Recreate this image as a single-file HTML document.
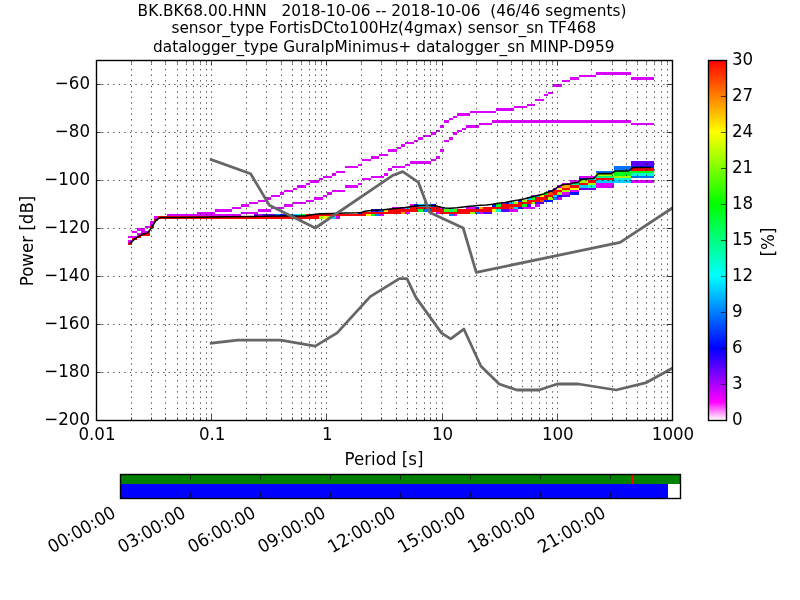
<!DOCTYPE html>
<html lang="en">
<head>
<meta charset="utf-8">
<title>PPSD BK.BK68.00.HNN</title>
<style>
html,body{margin:0;padding:0;background:#fff;}
body{width:800px;height:600px;overflow:hidden;font-family:"DejaVu Sans", "Liberation Sans", sans-serif;}
svg{display:block;will-change:transform;}
</style>
</head>
<body>
<svg width="800" height="600" viewBox="0 0 800 600" font-family='"DejaVu Sans", "Liberation Sans", sans-serif'>
<rect x="0" y="0" width="800" height="600" fill="#ffffff"/>
<defs>
<clipPath id="axclip"><rect x="96" y="60" width="576" height="360"/></clipPath>
<linearGradient id="pqlx" x1="0" y1="1" x2="0" y2="0">
<stop offset="0" stop-color="#ffffff"/>
<stop offset="0.05" stop-color="#ff00ff"/>
<stop offset="0.2" stop-color="#0000ff"/>
<stop offset="0.4" stop-color="#00ffff"/>
<stop offset="0.6" stop-color="#00ff00"/>
<stop offset="0.8" stop-color="#ffff00"/>
<stop offset="1" stop-color="#ff0000"/>
</linearGradient>
</defs>
<g id="hist" shape-rendering="crispEdges" clip-path="url(#axclip)">
<rect x="596" y="72" width="35" height="3" fill="#d900ff"/>
<rect x="579" y="75" width="17" height="2" fill="#d900ff"/>
<rect x="570" y="77" width="9" height="3" fill="#d900ff"/>
<rect x="631" y="77" width="23" height="3" fill="#d900ff"/>
<rect x="562" y="80" width="8" height="2" fill="#d900ff"/>
<rect x="553" y="84" width="9" height="3" fill="#d900ff"/>
<rect x="548" y="92" width="5" height="2" fill="#d900ff"/>
<rect x="544" y="94" width="4" height="2" fill="#d900ff"/>
<rect x="535" y="99" width="9" height="2" fill="#d900ff"/>
<rect x="527" y="104" width="8" height="2" fill="#d900ff"/>
<rect x="514" y="106" width="13" height="2" fill="#d900ff"/>
<rect x="496" y="108" width="18" height="3" fill="#d900ff"/>
<rect x="470" y="111" width="26" height="2" fill="#d900ff"/>
<rect x="457" y="113" width="13" height="3" fill="#d900ff"/>
<rect x="453" y="116" width="4" height="2" fill="#d900ff"/>
<rect x="449" y="118" width="4" height="2" fill="#d900ff"/>
<rect x="444" y="120" width="5" height="3" fill="#d900ff"/>
<rect x="492" y="120" width="139" height="3" fill="#d900ff"/>
<rect x="479" y="123" width="13" height="2" fill="#d900ff"/>
<rect x="631" y="123" width="23" height="2" fill="#d900ff"/>
<rect x="440" y="125" width="4" height="3" fill="#d900ff"/>
<rect x="466" y="125" width="13" height="3" fill="#d900ff"/>
<rect x="462" y="128" width="4" height="2" fill="#d900ff"/>
<rect x="436" y="130" width="4" height="2" fill="#d900ff"/>
<rect x="457" y="130" width="5" height="2" fill="#d900ff"/>
<rect x="431" y="132" width="5" height="3" fill="#d900ff"/>
<rect x="453" y="132" width="4" height="3" fill="#d900ff"/>
<rect x="423" y="135" width="8" height="2" fill="#d900ff"/>
<rect x="418" y="137" width="5" height="3" fill="#d900ff"/>
<rect x="449" y="137" width="4" height="3" fill="#d900ff"/>
<rect x="414" y="140" width="4" height="2" fill="#d900ff"/>
<rect x="444" y="140" width="5" height="2" fill="#d900ff"/>
<rect x="405" y="142" width="9" height="2" fill="#d900ff"/>
<rect x="401" y="144" width="4" height="3" fill="#d900ff"/>
<rect x="397" y="147" width="4" height="2" fill="#d900ff"/>
<rect x="388" y="149" width="9" height="3" fill="#d900ff"/>
<rect x="440" y="149" width="4" height="3" fill="#d900ff"/>
<rect x="379" y="154" width="9" height="2" fill="#d900ff"/>
<rect x="371" y="156" width="8" height="3" fill="#d900ff"/>
<rect x="436" y="156" width="4" height="3" fill="#d900ff"/>
<rect x="362" y="159" width="9" height="2" fill="#d900ff"/>
<rect x="431" y="159" width="5" height="2" fill="#d900ff"/>
<rect x="410" y="161" width="21" height="3" fill="#d900ff"/>
<rect x="631" y="161" width="23" height="3" fill="#5e00ff"/>
<rect x="358" y="164" width="4" height="2" fill="#d900ff"/>
<rect x="405" y="164" width="5" height="2" fill="#d900ff"/>
<rect x="631" y="164" width="23" height="2" fill="#5e00ff"/>
<rect x="345" y="166" width="13" height="2" fill="#d900ff"/>
<rect x="392" y="166" width="13" height="2" fill="#d900ff"/>
<rect x="631" y="166" width="23" height="2" fill="#0016ff"/>
<rect x="614" y="166" width="17" height="2" fill="#0073ff"/>
<rect x="388" y="168" width="4" height="3" fill="#d900ff"/>
<rect x="614" y="168" width="17" height="3" fill="#0073ff"/>
<rect x="631" y="168" width="23" height="3" fill="#ff0000"/>
<rect x="336" y="171" width="9" height="2" fill="#d900ff"/>
<rect x="596" y="171" width="18" height="2" fill="#0073ff"/>
<rect x="614" y="171" width="40" height="2" fill="#00ff1a"/>
<rect x="332" y="173" width="4" height="3" fill="#d900ff"/>
<rect x="384" y="173" width="4" height="3" fill="#d900ff"/>
<rect x="631" y="173" width="23" height="3" fill="#00ffd3"/>
<rect x="614" y="173" width="17" height="3" fill="#00ff1a"/>
<rect x="596" y="173" width="18" height="3" fill="#9fff00"/>
<rect x="323" y="176" width="9" height="2" fill="#d900ff"/>
<rect x="371" y="176" width="13" height="2" fill="#d900ff"/>
<rect x="579" y="176" width="17" height="2" fill="#d900ff"/>
<rect x="631" y="176" width="23" height="2" fill="#0073ff"/>
<rect x="596" y="176" width="18" height="2" fill="#00ff76"/>
<rect x="614" y="176" width="17" height="2" fill="#9fff00"/>
<rect x="319" y="178" width="4" height="2" fill="#d900ff"/>
<rect x="362" y="178" width="9" height="2" fill="#d900ff"/>
<rect x="579" y="178" width="9" height="2" fill="#0016ff"/>
<rect x="588" y="178" width="8" height="2" fill="#00ffd3"/>
<rect x="614" y="178" width="17" height="2" fill="#00ffd3"/>
<rect x="596" y="178" width="18" height="2" fill="#ff0000"/>
<rect x="310" y="180" width="9" height="3" fill="#d900ff"/>
<rect x="570" y="180" width="9" height="3" fill="#d900ff"/>
<rect x="631" y="180" width="23" height="3" fill="#d900ff"/>
<rect x="596" y="180" width="35" height="3" fill="#00cfff"/>
<rect x="579" y="180" width="9" height="3" fill="#9fff00"/>
<rect x="588" y="180" width="8" height="3" fill="#ff0000"/>
<rect x="306" y="183" width="4" height="2" fill="#d900ff"/>
<rect x="358" y="183" width="4" height="2" fill="#d900ff"/>
<rect x="562" y="183" width="8" height="2" fill="#d900ff"/>
<rect x="596" y="183" width="18" height="2" fill="#d900ff"/>
<rect x="570" y="183" width="9" height="2" fill="#00ff76"/>
<rect x="588" y="183" width="8" height="2" fill="#9fff00"/>
<rect x="579" y="183" width="9" height="2" fill="#ff0000"/>
<rect x="297" y="185" width="9" height="3" fill="#d900ff"/>
<rect x="345" y="185" width="13" height="3" fill="#d900ff"/>
<rect x="557" y="185" width="5" height="3" fill="#d900ff"/>
<rect x="596" y="185" width="18" height="3" fill="#d900ff"/>
<rect x="579" y="185" width="9" height="3" fill="#00cfff"/>
<rect x="588" y="185" width="8" height="3" fill="#00ffd3"/>
<rect x="562" y="185" width="8" height="3" fill="#ffa600"/>
<rect x="570" y="185" width="9" height="3" fill="#ff0000"/>
<rect x="293" y="188" width="4" height="2" fill="#d900ff"/>
<rect x="553" y="188" width="4" height="2" fill="#d900ff"/>
<rect x="579" y="188" width="17" height="2" fill="#5e00ff"/>
<rect x="557" y="188" width="5" height="2" fill="#fbff00"/>
<rect x="570" y="188" width="9" height="2" fill="#fbff00"/>
<rect x="562" y="188" width="8" height="2" fill="#ff0000"/>
<rect x="284" y="190" width="9" height="2" fill="#d900ff"/>
<rect x="332" y="190" width="13" height="2" fill="#d900ff"/>
<rect x="570" y="190" width="9" height="2" fill="#d900ff"/>
<rect x="548" y="190" width="5" height="2" fill="#5e00ff"/>
<rect x="562" y="190" width="8" height="2" fill="#9fff00"/>
<rect x="553" y="190" width="9" height="2" fill="#ff0000"/>
<rect x="280" y="192" width="4" height="3" fill="#d900ff"/>
<rect x="327" y="192" width="5" height="3" fill="#d900ff"/>
<rect x="562" y="192" width="8" height="3" fill="#d900ff"/>
<rect x="570" y="192" width="9" height="3" fill="#0016ff"/>
<rect x="544" y="192" width="4" height="3" fill="#00ff1a"/>
<rect x="557" y="192" width="5" height="3" fill="#9fff00"/>
<rect x="548" y="192" width="5" height="3" fill="#ff4a00"/>
<rect x="553" y="192" width="4" height="3" fill="#ff0000"/>
<rect x="271" y="195" width="9" height="2" fill="#d900ff"/>
<rect x="323" y="195" width="4" height="2" fill="#d900ff"/>
<rect x="531" y="195" width="4" height="2" fill="#d900ff"/>
<rect x="562" y="195" width="8" height="2" fill="#5e00ff"/>
<rect x="557" y="195" width="5" height="2" fill="#0016ff"/>
<rect x="535" y="195" width="5" height="2" fill="#00cfff"/>
<rect x="553" y="195" width="4" height="2" fill="#00cfff"/>
<rect x="540" y="195" width="4" height="2" fill="#fbff00"/>
<rect x="544" y="195" width="9" height="2" fill="#ff0000"/>
<rect x="267" y="197" width="4" height="3" fill="#d900ff"/>
<rect x="314" y="197" width="9" height="3" fill="#d900ff"/>
<rect x="557" y="197" width="5" height="3" fill="#d900ff"/>
<rect x="553" y="197" width="4" height="3" fill="#0073ff"/>
<rect x="527" y="197" width="4" height="3" fill="#00cfff"/>
<rect x="531" y="197" width="4" height="3" fill="#00ff1a"/>
<rect x="548" y="197" width="5" height="3" fill="#9fff00"/>
<rect x="535" y="197" width="13" height="3" fill="#ff0000"/>
<rect x="258" y="200" width="9" height="2" fill="#d900ff"/>
<rect x="306" y="200" width="8" height="2" fill="#d900ff"/>
<rect x="518" y="200" width="4" height="2" fill="#0016ff"/>
<rect x="544" y="200" width="9" height="2" fill="#0016ff"/>
<rect x="522" y="200" width="5" height="2" fill="#9fff00"/>
<rect x="540" y="200" width="4" height="2" fill="#ff4a00"/>
<rect x="527" y="200" width="13" height="2" fill="#ff0000"/>
<rect x="249" y="202" width="9" height="2" fill="#d900ff"/>
<rect x="293" y="202" width="13" height="2" fill="#d900ff"/>
<rect x="501" y="202" width="4" height="2" fill="#d900ff"/>
<rect x="535" y="202" width="9" height="2" fill="#5e00ff"/>
<rect x="505" y="202" width="4" height="2" fill="#0016ff"/>
<rect x="509" y="202" width="5" height="2" fill="#00cfff"/>
<rect x="514" y="202" width="4" height="2" fill="#9fff00"/>
<rect x="531" y="202" width="4" height="2" fill="#9fff00"/>
<rect x="518" y="202" width="13" height="2" fill="#ff0000"/>
<rect x="241" y="204" width="8" height="3" fill="#d900ff"/>
<rect x="284" y="204" width="9" height="3" fill="#d900ff"/>
<rect x="410" y="204" width="4" height="3" fill="#d900ff"/>
<rect x="535" y="204" width="5" height="3" fill="#d900ff"/>
<rect x="527" y="204" width="4" height="3" fill="#5e00ff"/>
<rect x="414" y="204" width="4" height="3" fill="#0016ff"/>
<rect x="431" y="204" width="5" height="3" fill="#0016ff"/>
<rect x="492" y="204" width="4" height="3" fill="#0016ff"/>
<rect x="418" y="204" width="13" height="3" fill="#00cfff"/>
<rect x="496" y="204" width="5" height="3" fill="#00ff1a"/>
<rect x="522" y="204" width="5" height="3" fill="#00ff1a"/>
<rect x="501" y="204" width="21" height="3" fill="#ff0000"/>
<rect x="232" y="207" width="9" height="2" fill="#d900ff"/>
<rect x="271" y="207" width="13" height="2" fill="#d900ff"/>
<rect x="392" y="207" width="13" height="2" fill="#d900ff"/>
<rect x="440" y="207" width="4" height="2" fill="#d900ff"/>
<rect x="466" y="207" width="9" height="2" fill="#d900ff"/>
<rect x="522" y="207" width="13" height="2" fill="#d900ff"/>
<rect x="475" y="207" width="4" height="2" fill="#0016ff"/>
<rect x="518" y="207" width="4" height="2" fill="#0016ff"/>
<rect x="405" y="207" width="5" height="2" fill="#00cfff"/>
<rect x="514" y="207" width="4" height="2" fill="#00cfff"/>
<rect x="479" y="207" width="4" height="2" fill="#ffa600"/>
<rect x="509" y="207" width="5" height="2" fill="#ff4a00"/>
<rect x="410" y="207" width="30" height="2" fill="#ff0000"/>
<rect x="483" y="207" width="26" height="2" fill="#ff0000"/>
<rect x="215" y="209" width="17" height="3" fill="#d900ff"/>
<rect x="258" y="209" width="13" height="3" fill="#d900ff"/>
<rect x="509" y="209" width="9" height="3" fill="#d900ff"/>
<rect x="371" y="209" width="4" height="3" fill="#5e00ff"/>
<rect x="501" y="209" width="8" height="3" fill="#5e00ff"/>
<rect x="375" y="209" width="4" height="3" fill="#0016ff"/>
<rect x="379" y="209" width="5" height="3" fill="#0073ff"/>
<rect x="423" y="209" width="8" height="3" fill="#0073ff"/>
<rect x="496" y="209" width="5" height="3" fill="#00ffd3"/>
<rect x="449" y="209" width="4" height="3" fill="#00ff76"/>
<rect x="418" y="209" width="5" height="3" fill="#00ff1a"/>
<rect x="444" y="209" width="5" height="3" fill="#43ff00"/>
<rect x="453" y="209" width="4" height="3" fill="#43ff00"/>
<rect x="384" y="209" width="4" height="3" fill="#fbff00"/>
<rect x="492" y="209" width="4" height="3" fill="#fbff00"/>
<rect x="388" y="209" width="30" height="3" fill="#ff0000"/>
<rect x="431" y="209" width="13" height="3" fill="#ff0000"/>
<rect x="457" y="209" width="35" height="3" fill="#ff0000"/>
<rect x="197" y="212" width="18" height="2" fill="#d900ff"/>
<rect x="241" y="212" width="17" height="2" fill="#d900ff"/>
<rect x="405" y="212" width="5" height="2" fill="#d900ff"/>
<rect x="436" y="212" width="4" height="2" fill="#d900ff"/>
<rect x="479" y="212" width="4" height="2" fill="#d900ff"/>
<rect x="483" y="212" width="9" height="2" fill="#5e00ff"/>
<rect x="358" y="212" width="4" height="2" fill="#0016ff"/>
<rect x="475" y="212" width="4" height="2" fill="#0073ff"/>
<rect x="470" y="212" width="5" height="2" fill="#9fff00"/>
<rect x="401" y="212" width="4" height="2" fill="#ffa600"/>
<rect x="362" y="212" width="39" height="2" fill="#ff0000"/>
<rect x="440" y="212" width="30" height="2" fill="#ff0000"/>
<rect x="167" y="214" width="74" height="2" fill="#d900ff"/>
<rect x="258" y="214" width="4" height="2" fill="#d900ff"/>
<rect x="379" y="214" width="5" height="2" fill="#d900ff"/>
<rect x="453" y="214" width="4" height="2" fill="#d900ff"/>
<rect x="254" y="214" width="4" height="2" fill="#5e00ff"/>
<rect x="262" y="214" width="13" height="2" fill="#5e00ff"/>
<rect x="280" y="214" width="8" height="2" fill="#0016ff"/>
<rect x="275" y="214" width="5" height="2" fill="#0073ff"/>
<rect x="288" y="214" width="5" height="2" fill="#0073ff"/>
<rect x="375" y="214" width="4" height="2" fill="#0073ff"/>
<rect x="449" y="214" width="4" height="2" fill="#0073ff"/>
<rect x="293" y="214" width="4" height="2" fill="#00cfff"/>
<rect x="297" y="214" width="4" height="2" fill="#00ffd3"/>
<rect x="301" y="214" width="5" height="2" fill="#00ff1a"/>
<rect x="371" y="214" width="4" height="2" fill="#00ff1a"/>
<rect x="366" y="214" width="5" height="2" fill="#fbff00"/>
<rect x="306" y="214" width="60" height="2" fill="#ff0000"/>
<rect x="154" y="216" width="4" height="3" fill="#d900ff"/>
<rect x="336" y="216" width="4" height="3" fill="#d900ff"/>
<rect x="332" y="216" width="4" height="3" fill="#00cfff"/>
<rect x="319" y="216" width="4" height="3" fill="#9fff00"/>
<rect x="327" y="216" width="5" height="3" fill="#9fff00"/>
<rect x="323" y="216" width="4" height="3" fill="#fbff00"/>
<rect x="158" y="216" width="161" height="3" fill="#ff0000"/>
<rect x="154" y="219" width="4" height="2" fill="#ff0000"/>
<rect x="150" y="221" width="4" height="3" fill="#d900ff"/>
<rect x="150" y="224" width="4" height="2" fill="#d900ff"/>
<rect x="145" y="226" width="5" height="2" fill="#d900ff"/>
<rect x="150" y="226" width="4" height="2" fill="#ff0000"/>
<rect x="137" y="228" width="8" height="3" fill="#d900ff"/>
<rect x="132" y="231" width="5" height="2" fill="#d900ff"/>
<rect x="141" y="231" width="9" height="2" fill="#d900ff"/>
<rect x="137" y="233" width="4" height="3" fill="#d900ff"/>
<rect x="141" y="233" width="9" height="3" fill="#ff0000"/>
<rect x="128" y="236" width="9" height="2" fill="#d900ff"/>
<rect x="137" y="236" width="4" height="2" fill="#ff0000"/>
<rect x="132" y="238" width="5" height="2" fill="#ff0000"/>
<rect x="128" y="240" width="4" height="3" fill="#d900ff"/>
<rect x="128" y="243" width="4" height="2" fill="#ff0000"/>
</g>
<g id="grid" stroke="#000" stroke-width="0.69" stroke-dasharray="1.3889 4.1667" fill="none">
<path d="M131.5 420.4V60"/>
<path d="M151.5 420.4V60"/>
<path d="M165.5 420.4V60"/>
<path d="M177.5 420.4V60"/>
<path d="M186.5 420.4V60"/>
<path d="M193.5 420.4V60"/>
<path d="M200.5 420.4V60"/>
<path d="M206.5 420.4V60"/>
<path d="M211.5 420.4V60"/>
<path d="M246.5 420.4V60"/>
<path d="M266.5 420.4V60"/>
<path d="M281.5 420.4V60"/>
<path d="M292.5 420.4V60"/>
<path d="M301.5 420.4V60"/>
<path d="M309.5 420.4V60"/>
<path d="M315.5 420.4V60"/>
<path d="M321.5 420.4V60"/>
<path d="M326.5 420.4V60"/>
<path d="M361.5 420.4V60"/>
<path d="M381.5 420.4V60"/>
<path d="M396.5 420.4V60"/>
<path d="M407.5 420.4V60"/>
<path d="M416.5 420.4V60"/>
<path d="M424.5 420.4V60"/>
<path d="M430.5 420.4V60"/>
<path d="M436.5 420.4V60"/>
<path d="M442.5 420.4V60"/>
<path d="M476.5 420.4V60"/>
<path d="M497.5 420.4V60"/>
<path d="M511.5 420.4V60"/>
<path d="M522.5 420.4V60"/>
<path d="M531.5 420.4V60"/>
<path d="M539.5 420.4V60"/>
<path d="M546.5 420.4V60"/>
<path d="M552.5 420.4V60"/>
<path d="M557.5 420.4V60"/>
<path d="M591.5 420.4V60"/>
<path d="M612.5 420.4V60"/>
<path d="M626.5 420.4V60"/>
<path d="M637.5 420.4V60"/>
<path d="M646.5 420.4V60"/>
<path d="M654.5 420.4V60"/>
<path d="M661.5 420.4V60"/>
<path d="M667.5 420.4V60"/>
<path d="M96.5 372.5H672"/>
<path d="M96.5 324.5H672"/>
<path d="M96.5 276.5H672"/>
<path d="M96.5 228.5H672"/>
<path d="M96.5 180.5H672"/>
<path d="M96.5 132.5H672"/>
<path d="M96.5 84.5H672"/>
</g>
<path id="meanline" d="M130.07 243.6 L134.4 239.2 L138.7 236.4 L143.07 234 L147.4 233.2 L151.7 227.5 L156.1 220 L160.4 217.6 L176 217.5 L200 217.3 L225 216.8 L250 216.5 L275 216.1 L305.6 216 L310 214.9 L320 213.8 L332.5 213.5 L345 213 L357.5 212.75 L361.25 212.4 L365 211.2 L371.25 210.5 L383.75 209.7 L390 209 L396.25 208.4 L405 207.6 L408.75 206.9 L411.25 206.4 L415 206 L422.5 205.6 L428.75 205.4 L435 205.6 L438.1 206.5 L441.25 207.3 L445 207.9 L450.6 208.25 L456.9 207.75 L461.25 207.2 L467.5 206.6 L473.75 205.9 L480 205.3 L486.25 205 L492.5 204.25 L498.75 203.25 L505 202.4 L512.5 201.06 L518.75 200.1 L525 198.75 L531.25 197 L537.5 195.4 L543.75 193.9 L547 192.4 L551.25 191.1 L557.5 187.4 L561.25 185.2 L563.75 184.4 L570 184.1 L573.1 183 L578.1 182.5 L580.6 179.9 L582.5 179.25 L588.75 178.75 L593.9 178.4 L598.25 173.6 L611.25 173.6 L615.6 171 L628.6 171 L632.9 167.5 L651.3 167.5" fill="none" stroke="#000" stroke-width="1.55" stroke-linejoin="round" clip-path="url(#axclip)"/>
<g id="models" fill="none" stroke="#666666" stroke-width="2.78" stroke-linejoin="round" stroke-linecap="square" clip-path="url(#axclip)">
<path d="M211.2 159.6 L250.65 173.76 L269.39 205.2 L315.24 228 L393.19 175.2 L402.75 171.6 L418.48 182.4 L429.81 212.4 L463.2 228 L476.28 272.4 L620.16 242.4 L787.2 132.24"/>
<path d="M211.2 343.2 L237.75 340.08 L280.56 340.08 L315.24 346.08 L337.16 332.88 L370.2 296.64 L399.38 278.64 L406.92 278.64 L416.04 297.6 L441.6 333.12 L450.72 338.88 L463.85 329.04 L480.82 366 L499.16 384 L516.85 390 L538.96 390 L557.3 384 L578.4 384 L616.23 390 L646.44 382.56 L787.2 304.56"/>
</g>
<g id="ticks" stroke="#000" stroke-width="0.69" fill="none">
<path d="M96.5 420v-5.56 M96.5 60v5.56"/>
<path d="M131.5 420v-2.78 M131.5 60v2.78"/>
<path d="M151.5 420v-2.78 M151.5 60v2.78"/>
<path d="M165.5 420v-2.78 M165.5 60v2.78"/>
<path d="M177.5 420v-2.78 M177.5 60v2.78"/>
<path d="M186.5 420v-2.78 M186.5 60v2.78"/>
<path d="M193.5 420v-2.78 M193.5 60v2.78"/>
<path d="M200.5 420v-2.78 M200.5 60v2.78"/>
<path d="M206.5 420v-2.78 M206.5 60v2.78"/>
<path d="M211.5 420v-5.56 M211.5 60v5.56"/>
<path d="M246.5 420v-2.78 M246.5 60v2.78"/>
<path d="M266.5 420v-2.78 M266.5 60v2.78"/>
<path d="M281.5 420v-2.78 M281.5 60v2.78"/>
<path d="M292.5 420v-2.78 M292.5 60v2.78"/>
<path d="M301.5 420v-2.78 M301.5 60v2.78"/>
<path d="M309.5 420v-2.78 M309.5 60v2.78"/>
<path d="M315.5 420v-2.78 M315.5 60v2.78"/>
<path d="M321.5 420v-2.78 M321.5 60v2.78"/>
<path d="M326.5 420v-5.56 M326.5 60v5.56"/>
<path d="M361.5 420v-2.78 M361.5 60v2.78"/>
<path d="M381.5 420v-2.78 M381.5 60v2.78"/>
<path d="M396.5 420v-2.78 M396.5 60v2.78"/>
<path d="M407.5 420v-2.78 M407.5 60v2.78"/>
<path d="M416.5 420v-2.78 M416.5 60v2.78"/>
<path d="M424.5 420v-2.78 M424.5 60v2.78"/>
<path d="M430.5 420v-2.78 M430.5 60v2.78"/>
<path d="M436.5 420v-2.78 M436.5 60v2.78"/>
<path d="M442.5 420v-5.56 M442.5 60v5.56"/>
<path d="M476.5 420v-2.78 M476.5 60v2.78"/>
<path d="M497.5 420v-2.78 M497.5 60v2.78"/>
<path d="M511.5 420v-2.78 M511.5 60v2.78"/>
<path d="M522.5 420v-2.78 M522.5 60v2.78"/>
<path d="M531.5 420v-2.78 M531.5 60v2.78"/>
<path d="M539.5 420v-2.78 M539.5 60v2.78"/>
<path d="M546.5 420v-2.78 M546.5 60v2.78"/>
<path d="M552.5 420v-2.78 M552.5 60v2.78"/>
<path d="M557.5 420v-5.56 M557.5 60v5.56"/>
<path d="M591.5 420v-2.78 M591.5 60v2.78"/>
<path d="M612.5 420v-2.78 M612.5 60v2.78"/>
<path d="M626.5 420v-2.78 M626.5 60v2.78"/>
<path d="M637.5 420v-2.78 M637.5 60v2.78"/>
<path d="M646.5 420v-2.78 M646.5 60v2.78"/>
<path d="M654.5 420v-2.78 M654.5 60v2.78"/>
<path d="M661.5 420v-2.78 M661.5 60v2.78"/>
<path d="M667.5 420v-2.78 M667.5 60v2.78"/>
<path d="M672.5 420v-5.56 M672.5 60v5.56"/>
<path d="M96 420.5h5.56 M672 420.5h-5.56"/>
<path d="M96 372.5h5.56 M672 372.5h-5.56"/>
<path d="M96 324.5h5.56 M672 324.5h-5.56"/>
<path d="M96 276.5h5.56 M672 276.5h-5.56"/>
<path d="M96 228.5h5.56 M672 228.5h-5.56"/>
<path d="M96 180.5h5.56 M672 180.5h-5.56"/>
<path d="M96 132.5h5.56 M672 132.5h-5.56"/>
<path d="M96 84.5h5.56 M672 84.5h-5.56"/>
</g>
<rect id="frame" x="96.5" y="60.5" width="576" height="360" fill="none" stroke="#000" stroke-width="1.39"/>
<g id="ylabels" font-size="16.67" text-anchor="end" fill="#000">
<text transform="translate(90 425.4) scale(1 1.07)" text-anchor="end">−200</text>
<text transform="translate(90 377.4) scale(1 1.07)" text-anchor="end">−180</text>
<text transform="translate(90 329.4) scale(1 1.07)" text-anchor="end">−160</text>
<text transform="translate(90 281.4) scale(1 1.07)" text-anchor="end">−140</text>
<text transform="translate(90 233.4) scale(1 1.07)" text-anchor="end">−120</text>
<text transform="translate(90 185.4) scale(1 1.07)" text-anchor="end">−100</text>
<text transform="translate(90 137.4) scale(1 1.07)" text-anchor="end">−80</text>
<text transform="translate(90 89.4) scale(1 1.07)" text-anchor="end">−60</text>
</g>
<g id="xlabels" font-size="16.67" text-anchor="middle" fill="#000">
<text transform="translate(97 439.6) scale(1 1.07)" text-anchor="middle">0.01</text>
<text transform="translate(212.2 439.6) scale(1 1.07)" text-anchor="middle">0.1</text>
<text transform="translate(327.4 439.6) scale(1 1.07)" text-anchor="middle">1</text>
<text transform="translate(442.6 439.6) scale(1 1.07)" text-anchor="middle">10</text>
<text transform="translate(557.8 439.6) scale(1 1.07)" text-anchor="middle">100</text>
<text transform="translate(673 439.6) scale(1 1.07)" text-anchor="middle">1000</text>
</g>
<text transform="translate(384 464.8) scale(1 1.07)" text-anchor="middle" id="xlabel" font-size="16.67">Period [s]</text>
<text transform="translate(32.6 241) rotate(-90) scale(1 1.07)" text-anchor="middle" id="ylabel" font-size="16.67">Power [dB]</text>
<g id="title" font-size="15.34" text-anchor="middle" fill="#000">
<text x="382" y="15.7" xml:space="preserve">BK.BK68.00.HNN   2018-10-06 -- 2018-10-06  (46/46 segments)</text>
<text x="383.8" y="32.7" xml:space="preserve">sensor_type FortisDCto100Hz(4gmax) sensor_sn TF468</text>
<text x="383.8" y="52" xml:space="preserve">datalogger_type GuralpMinimus+ datalogger_sn MINP-D959</text>
</g>
<rect id="cbar" x="708" y="60" width="18" height="360" fill="url(#pqlx)"/>
<g stroke="#000" stroke-width="0.69" fill="none">
<path d="M726.5 420.5h-5.56"/>
<path d="M726.5 384.5h-5.56"/>
<path d="M726.5 348.5h-5.56"/>
<path d="M726.5 312.5h-5.56"/>
<path d="M726.5 276.5h-5.56"/>
<path d="M726.5 240.5h-5.56"/>
<path d="M726.5 204.5h-5.56"/>
<path d="M726.5 168.5h-5.56"/>
<path d="M726.5 132.5h-5.56"/>
<path d="M726.5 96.5h-5.56"/>
<path d="M726.5 60.5h-5.56"/>
</g>
<rect x="708.5" y="60.5" width="18" height="360" fill="none" stroke="#000" stroke-width="1.39"/>
<g id="cblabels" font-size="16.67" text-anchor="start" fill="#000">
<text transform="translate(732 425.3) scale(1 1.07)" text-anchor="start">0</text>
<text transform="translate(732 389.3) scale(1 1.07)" text-anchor="start">3</text>
<text transform="translate(732 353.3) scale(1 1.07)" text-anchor="start">6</text>
<text transform="translate(732 317.3) scale(1 1.07)" text-anchor="start">9</text>
<text transform="translate(732 281.3) scale(1 1.07)" text-anchor="start">12</text>
<text transform="translate(732 245.3) scale(1 1.07)" text-anchor="start">15</text>
<text transform="translate(732 209.3) scale(1 1.07)" text-anchor="start">18</text>
<text transform="translate(732 173.3) scale(1 1.07)" text-anchor="start">21</text>
<text transform="translate(732 137.3) scale(1 1.07)" text-anchor="start">24</text>
<text transform="translate(732 101.3) scale(1 1.07)" text-anchor="start">27</text>
<text transform="translate(732 65.3) scale(1 1.07)" text-anchor="start">30</text>
</g>
<text transform="translate(774.2 242) rotate(-90) scale(1 1.07)" text-anchor="middle" id="cblabel" font-size="16.67">[%]</text>
<g id="coverage" shape-rendering="crispEdges">
<rect x="120" y="474" width="560" height="9.6" fill="#008000"/>
<rect x="120" y="483.6" width="548.33" height="14.4" fill="#0000ff"/>
<rect x="632" y="474" width="1" height="9.6" fill="#ff0000"/>
</g>
<g stroke="#000" stroke-width="0.69" fill="none">
<path d="M120.5 498v-5.56 M120.5 474v5.56"/>
<path d="M190.5 498v-5.56 M190.5 474v5.56"/>
<path d="M260.5 498v-5.56 M260.5 474v5.56"/>
<path d="M330.5 498v-5.56 M330.5 474v5.56"/>
<path d="M400.5 498v-5.56 M400.5 474v5.56"/>
<path d="M470.5 498v-5.56 M470.5 474v5.56"/>
<path d="M540.5 498v-5.56 M540.5 474v5.56"/>
<path d="M610.5 498v-5.56 M610.5 474v5.56"/>
<path d="M680.5 498v-5.56 M680.5 474v5.56"/>
</g>
<rect x="120.5" y="474.5" width="560" height="24" fill="none" stroke="#000" stroke-width="1.39"/>
<g id="tlabels" font-size="16.67" text-anchor="end" fill="#000">
<text transform="translate(117 516.2) rotate(-30) scale(1 1.07)" text-anchor="end">00:00:00</text>
<text transform="translate(187 516.2) rotate(-30) scale(1 1.07)" text-anchor="end">03:00:00</text>
<text transform="translate(257 516.2) rotate(-30) scale(1 1.07)" text-anchor="end">06:00:00</text>
<text transform="translate(327 516.2) rotate(-30) scale(1 1.07)" text-anchor="end">09:00:00</text>
<text transform="translate(397 516.2) rotate(-30) scale(1 1.07)" text-anchor="end">12:00:00</text>
<text transform="translate(467 516.2) rotate(-30) scale(1 1.07)" text-anchor="end">15:00:00</text>
<text transform="translate(537 516.2) rotate(-30) scale(1 1.07)" text-anchor="end">18:00:00</text>
<text transform="translate(607 516.2) rotate(-30) scale(1 1.07)" text-anchor="end">21:00:00</text>
</g>
</svg>
</body>
</html>
